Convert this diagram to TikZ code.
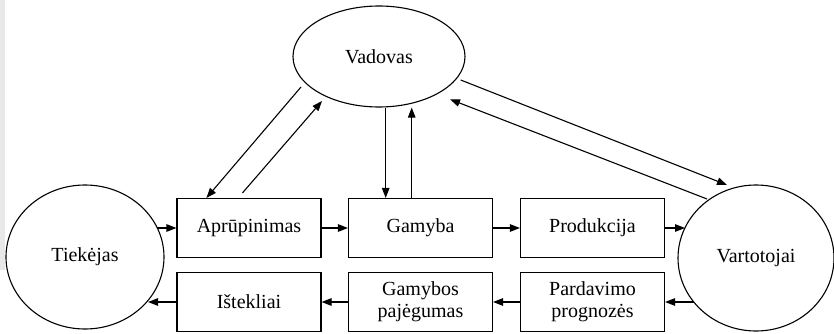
\documentclass[tikz,border=0pt]{standalone}
\usepackage{fontspec}
\setmainfont{Liberation Serif}
\usetikzlibrary{arrows.meta,shapes.geometric}

\begin{document}
\begin{tikzpicture}[
    x=1pt, y=-1pt,
    line width=1.1pt,
    every node/.style={font=\fontsize{20}{22}\selectfont, inner sep=0pt},
    actor/.style={draw, ellipse},
    stage/.style={draw, rectangle, minimum width=144pt, minimum height=59pt, align=center},
    arr/.style={-{Triangle[length=10pt,width=7.5pt]}}
  ]
  \useasboundingbox (0,0) rectangle (834,334);
  % faint band along the left edge
  \fill[black!9] (0,0) rectangle (5,270);

  % participants
  \node[actor, minimum width=172pt, minimum height=101pt] (vad) at (379,56.5) {Vadovas};
  \node[actor, minimum width=158pt, minimum height=144pt] (tie) at (85,257) {Tiekėjas};
  \node[actor, minimum width=156pt, minimum height=146pt] (var) at (756,258) {Vartotojai};

  % forward flow (upper row)
  \node[stage] (apr)  at (249,228)   {Aprūpinimas};
  \node[stage] (gam)  at (420.5,228) {Gamyba};
  \node[stage] (prod) at (592.5,228) {Produkcija};

  % planning flow (lower row)
  \node[stage] (ist)  at (249,302)   {Ištekliai};
  \node[stage] (paj)  at (420.5,302) {Gamybos\\pajėgumas};
  \node[stage] (prog) at (592.5,302) {Pardavimo\\prognozės};

  % upper row arrows
  \draw[arr] ([shift={(72.3,-29)}]tie.center) -- (apr.west);
  \draw[arr] (apr.east) -- (gam.west);
  \draw[arr] (gam.east) -- (prod.west);
  \draw[arr] (prod.east) -- ([shift={(-71,-30)}]var.center);

  % lower row arrows
  \draw[arr] ([shift={(-62.5,44)}]var.center) -- (prog.east);
  \draw[arr] (prog.west) -- (paj.east);
  \draw[arr] (paj.west) -- (ist.west -| ist.east);
  \draw[arr] (ist.west) -- ([shift={(63,45)}]tie.center);

  % manager <-> supply
  \draw[arr] ([shift={(-78,30.5)}]vad.center) -- ([xshift=30pt]apr.north west);
  \draw[arr] ([shift={(66,-5)}]apr.north west) -- ([shift={(-57,44.5)}]vad.center);

  % manager <-> production
  \draw[arr] ([xshift=6.7pt]vad.south) -- ([xshift=6.7pt]vad.south |- gam.north);
  \draw[arr] ([xshift=-8.8pt]gam.north) -- ([xshift=-8.8pt]gam.north |- vad.south);

  % manager <-> consumers
  \draw[arr] ([shift={(81.7,23.5)}]vad.center) -- ([shift={(-29,-73)}]var.center);
  \draw[arr] ([shift={(-49,-59)}]var.center) -- ([shift={(71,42.8)}]vad.center);
\end{tikzpicture}
\end{document}
